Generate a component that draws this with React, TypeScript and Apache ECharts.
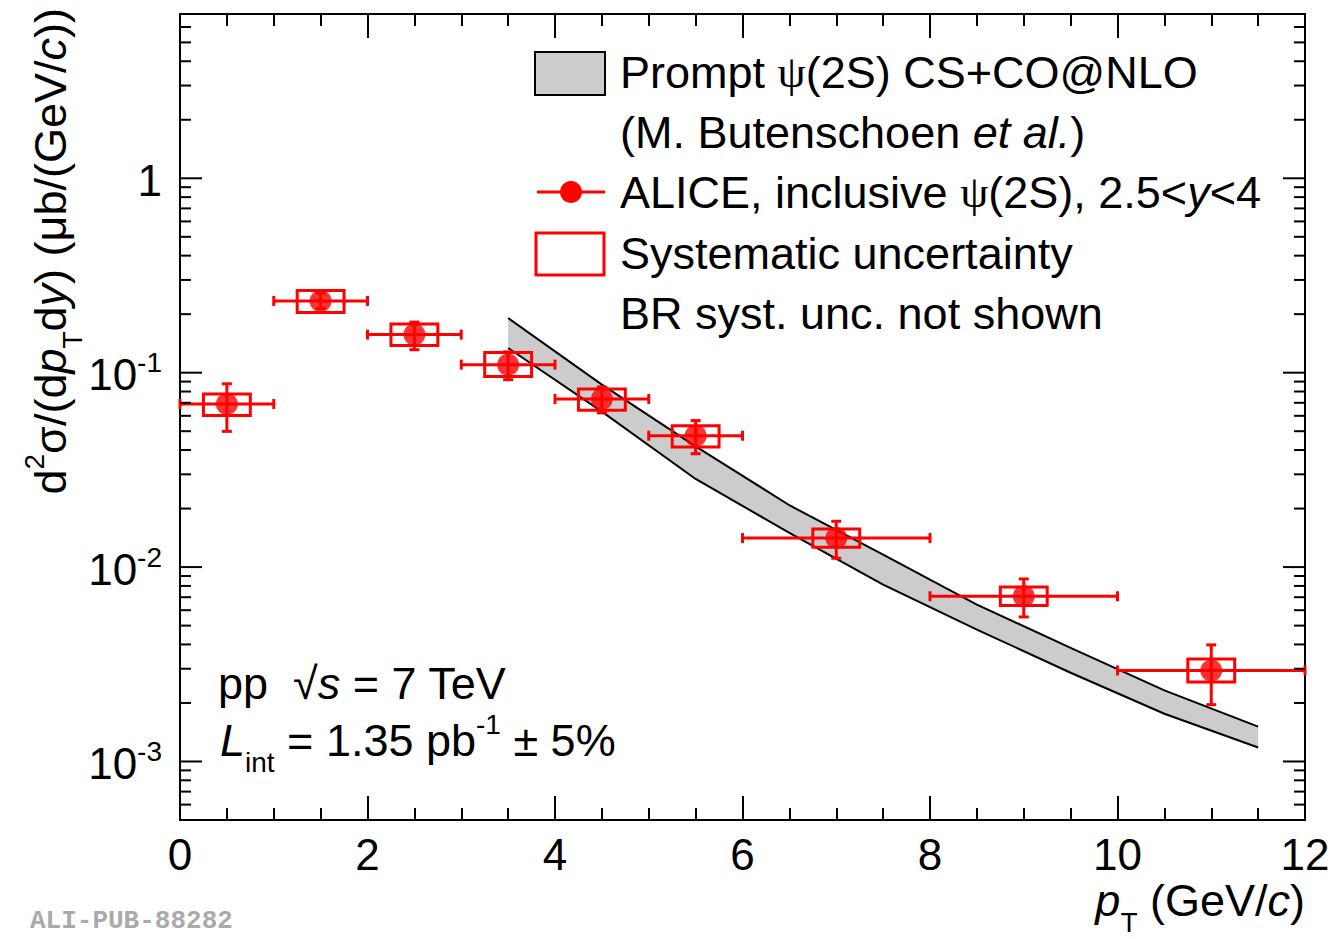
import React, { useEffect, useRef } from "react";
import * as echarts from "echarts";

// ---- measured data (ALICE inclusive psi(2S), pp 7 TeV) ----
const binCenters = [0.5, 1.5, 2.5, 3.5, 4.5, 5.5, 7, 9, 11];
const binLow = [0, 1, 2, 3, 4, 5, 6, 8, 10];
const binHigh = [1, 2, 3, 4, 5, 6, 8, 10, 12];
const sigma = [0.069, 0.234, 0.157, 0.11, 0.0732, 0.0474, 0.0141, 0.00708, 0.00294];
const statLow = [0.0499, 0.214, 0.1313, 0.092, 0.0621, 0.0383, 0.0111, 0.00554, 0.00196];
const statHigh = [0.0877, 0.256, 0.182, 0.128, 0.0844, 0.0567, 0.0172, 0.00869, 0.00398];
const systLow = [0.0603, 0.204, 0.138, 0.0957, 0.064, 0.0415, 0.01264, 0.00634, 0.00256];
const systHigh = [0.0777, 0.265, 0.178, 0.127, 0.0824, 0.0534, 0.0157, 0.00791, 0.00337];
const systHalfWidth = 0.25;

// ---- theory band (Prompt psi(2S) CS+CO@NLO) ----
const theoryPt = [3.5, 4.5, 5.5, 6.5, 7.5, 8.5, 9.5, 10.5, 11.5];
const theoryHigh = [0.191, 0.0868, 0.0418, 0.0208, 0.0116, 0.00641, 0.00384, 0.00232, 0.00151];
const theoryLow = [0.134, 0.063, 0.0284, 0.015, 0.00813, 0.00477, 0.00286, 0.00176, 0.00118];

// ---- axes ----
const xMin = 0;
const xMax = 12;
const xInterval = 2;
const yMin = 5e-4;
const yMax = 7;
const yDecades = [1, 0.1, 0.01, 0.001];
const yLabelBase = ["1", "10", "10", "10"];
const yLabelExp = ["", "-1", "-2", "-3"];
const yMinorDecades = [1e-4, 1e-3, 1e-2, 1e-1, 1];
const yMinorMultipliers = [2, 3, 4, 5, 6, 7, 8, 9];

const FONT = "Liberation Sans";
const RED = "#ff0000";
const FS = 45;

const yMinorTicks: number[] = [];
yMinorDecades.forEach((d) =>
  yMinorMultipliers.forEach((m) => {
    const v = m * d;
    if (v > yMin && v < yMax) yMinorTicks.push(v);
  })
);

const richBase = {
  n: { fontSize: FS, fontFamily: FONT, color: "#000", lineHeight: 72 },
  i: { fontSize: FS, fontFamily: FONT, fontStyle: "italic", color: "#000", lineHeight: 72 },
  g: { fontSize: FS, fontFamily: "Liberation Serif", color: "#000", lineHeight: 72 },
  sup: { fontSize: 28, fontFamily: FONT, color: "#000", verticalAlign: "top", padding: [6, 0, 0, 0] },
  sub: { fontSize: 28, fontFamily: FONT, color: "#000", verticalAlign: "bottom" },
};

function buildOption() {
  const xAxisCommon = {
    type: "value",
    min: xMin,
    max: xMax,
    interval: xInterval,
    axisLine: { show: false },
    splitLine: { show: false },
    axisTick: { show: true, inside: true, length: 24, lineStyle: { color: "#000", width: 2 } },
    minorTick: { show: true, splitNumber: 4, length: 12, lineStyle: { color: "#000", width: 2 } },
  };

  return {
    animation: false,
    backgroundColor: "#ffffff",
    grid: {
      left: 180,
      top: 14,
      width: 1125,
      height: 806,
      show: true,
      borderColor: "#000",
      borderWidth: 2,
      backgroundColor: "transparent",
      containLabel: false,
      outerBoundsMode: "none",
    },
    xAxis: [
      {
        ...xAxisCommon,
        position: "bottom",
        axisLabel: { show: true, fontSize: 44, fontFamily: FONT, color: "#000", margin: 12 },
      },
      {
        ...xAxisCommon,
        position: "top",
        axisLabel: { show: false },
      },
    ],
    yAxis: [
      {
        type: "log",
        logBase: 10,
        min: yMin,
        max: yMax,
        axisLine: { show: false },
        axisTick: { show: false },
        axisLabel: { show: false },
        splitLine: { show: false },
      },
    ],
    series: [
      // theory band
      {
        type: "custom",
        z: 1,
        data: [[theoryPt[0], theoryHigh[0]]],
        renderItem: (_params: any, api: any) => {
          const up = theoryPt.map((x, i) => api.coord([x, theoryHigh[i]]));
          const lo = theoryPt.map((x, i) => api.coord([x, theoryLow[i]]));
          return {
            type: "group",
            children: [
              { type: "polygon", shape: { points: [...up, ...lo.slice().reverse()] }, style: { fill: "#cccccc" } },
              { type: "polyline", shape: { points: up }, style: { stroke: "#000", lineWidth: 2, fill: null } },
              { type: "polyline", shape: { points: lo }, style: { stroke: "#000", lineWidth: 2, fill: null } },
            ],
          };
        },
      },
      // systematic boxes
      {
        type: "custom",
        z: 3,
        data: binCenters.map((x, i) => [x, sigma[i], systLow[i], systHigh[i]]),
        encode: { x: 0, y: 1 },
        renderItem: (_params: any, api: any) => {
          const x = api.value(0);
          const p1 = api.coord([x - systHalfWidth, api.value(3)]);
          const p2 = api.coord([x + systHalfWidth, api.value(2)]);
          return {
            type: "rect",
            shape: { x: p1[0], y: p1[1], width: p2[0] - p1[0], height: p2[1] - p1[1] },
            style: { fill: "none", stroke: RED, lineWidth: 3 },
          };
        },
      },
      // statistical error bars and bin widths
      {
        type: "custom",
        z: 4,
        data: binCenters.map((x, i) => [x, sigma[i], statLow[i], statHigh[i], binLow[i], binHigh[i]]),
        encode: { x: 0, y: 1 },
        renderItem: (_params: any, api: any) => {
          const x = api.value(0);
          const y = api.value(1);
          const c = api.coord([x, y]);
          const lo = api.coord([x, api.value(2)]);
          const hi = api.coord([x, api.value(3)]);
          const l = api.coord([api.value(4), y]);
          const r = api.coord([api.value(5), y]);
          const st = { stroke: RED, lineWidth: 3 };
          const cap = 5;
          return {
            type: "group",
            children: [
              { type: "line", shape: { x1: c[0], y1: lo[1], x2: c[0], y2: hi[1] }, style: st },
              { type: "line", shape: { x1: c[0] - cap, y1: lo[1], x2: c[0] + cap, y2: lo[1] }, style: st },
              { type: "line", shape: { x1: c[0] - cap, y1: hi[1], x2: c[0] + cap, y2: hi[1] }, style: st },
              { type: "line", shape: { x1: l[0], y1: c[1], x2: r[0], y2: c[1] }, style: st },
              { type: "line", shape: { x1: l[0], y1: c[1] - cap, x2: l[0], y2: c[1] + cap }, style: st },
              { type: "line", shape: { x1: r[0], y1: c[1] - cap, x2: r[0], y2: c[1] + cap }, style: st },
            ],
          };
        },
      },
      // markers
      {
        type: "scatter",
        z: 5,
        symbol: "circle",
        symbolSize: 22,
        itemStyle: { color: RED },
        data: binCenters.map((x, i) => [x, sigma[i]]),
      },
      // y ticks (left and right) and y labels
      {
        type: "custom",
        z: 6,
        silent: true,
        data: [[1, 1]],
        renderItem: (params: any, api: any) => {
          const cs = params.coordSys;
          const L = cs.x;
          const R = cs.x + cs.width;
          const st = { stroke: "#000", lineWidth: 2 };
          const children: any[] = [];
          yMinorTicks.forEach((v) => {
            const y = api.coord([1, v])[1];
            children.push({ type: "line", shape: { x1: L, y1: y, x2: L + 11, y2: y }, style: st });
            children.push({ type: "line", shape: { x1: R - 11, y1: y, x2: R, y2: y }, style: st });
          });
          yDecades.forEach((v, i) => {
            const y = api.coord([1, v])[1];
            children.push({ type: "line", shape: { x1: L, y1: y, x2: L + 22, y2: y }, style: st });
            children.push({ type: "line", shape: { x1: R - 22, y1: y, x2: R, y2: y }, style: st });
            const text = yLabelExp[i] ? `{b|${yLabelBase[i]}}{s|${yLabelExp[i]}}` : `{b|${yLabelBase[i]}}`;
            children.push({
              type: "text",
              x: L - 18,
              y: y + 2,
              style: {
                text,
                align: "right",
                verticalAlign: "middle",
                rich: {
                  b: { fontSize: 44, fontFamily: FONT, color: "#000", lineHeight: 52 },
                  s: { fontSize: 28, fontFamily: FONT, color: "#000", verticalAlign: "top" },
                },
              },
            });
          });
          return { type: "group", children };
        },
      },
    ],
    graphic: [
      // legend
      { type: "rect", shape: { x: 535, y: 52, width: 70, height: 43 }, style: { fill: "#cccccc", stroke: "#000", lineWidth: 2 }, z: 10 },
      {
        type: "text", x: 620, y: 72, z: 10,
        style: { text: "{n|Prompt }{g|ψ}{n|(2S) CS+CO@NLO}", rich: richBase, verticalAlign: "middle" },
      },
      {
        type: "text", x: 620, y: 132, z: 10,
        style: { text: "{n|(M. Butenschoen }{i|et al.}{n|)}", rich: richBase, verticalAlign: "middle" },
      },
      { type: "line", shape: { x1: 537, y1: 192, x2: 605, y2: 192 }, style: { stroke: RED, lineWidth: 3 }, z: 10 },
      { type: "circle", shape: { cx: 571, cy: 192, r: 11 }, style: { fill: RED }, z: 10 },
      {
        type: "text", x: 620, y: 192, z: 10,
        style: { text: "{n|ALICE, inclusive }{g|ψ}{n|(2S), 2.5<}{i|y}{n|<4}", rich: richBase, verticalAlign: "middle" },
      },
      { type: "rect", shape: { x: 536, y: 233, width: 68, height: 42 }, style: { fill: "none", stroke: RED, lineWidth: 3 }, z: 10 },
      {
        type: "text", x: 620, y: 253, z: 10,
        style: { text: "{n|Systematic uncertainty}", rich: richBase, verticalAlign: "middle" },
      },
      {
        type: "text", x: 620, y: 313, z: 10,
        style: { text: "{n|BR syst. unc. not shown}", rich: richBase, verticalAlign: "middle" },
      },
      // collision info
      {
        type: "text", x: 218, y: 683, z: 10,
        style: { text: "{n|pp  √}{i|s}{n| = 7 TeV}", rich: richBase, verticalAlign: "middle" },
      },
      {
        type: "text", x: 220, y: 740, z: 10,
        style: { text: "{i|L}{sub|int}{n| = 1.35 pb}{sup|-1}{n| ± 5%}", rich: richBase, verticalAlign: "middle" },
      },
      // axis titles
      {
        type: "text", x: 1305, y: 900, z: 10,
        style: { text: "{i|p}{sub|T}{n| (GeV/}{i|c}{n|)}", rich: richBase, align: "right", verticalAlign: "middle" },
      },
      {
        type: "text", x: 50, y: 8, z: 10, rotation: Math.PI / 2,
        style: {
          text: "{n|d}{sup|2}{n|σ/(d}{i|p}{sub|T}{n|d}{i|y}{n|) (μb/(GeV/}{i|c}{n|))}",
          rich: richBase,
          align: "right",
          verticalAlign: "middle",
        },
      },
      // publication id
      {
        type: "text", x: 30, y: 934, z: 10,
        style: {
          text: "ALI-PUB-88282",
          fontSize: 26,
          fontFamily: "Liberation Mono",
          fontWeight: "bold",
          fill: "#aaaaaa",
          verticalAlign: "bottom",
        },
      },
    ],
  };
}

export default function App() {
  const ref = useRef<HTMLDivElement>(null);
  useEffect(() => {
    if (!ref.current) return;
    const chart = echarts.init(ref.current, null, { renderer: "svg" });
    chart.setOption(buildOption() as any);
    return () => chart.dispose();
  }, []);
  return (
    <div
      ref={ref}
      style={{ position: "fixed", left: 0, top: 0, width: 1332, height: 939, background: "#ffffff" }}
    />
  );
}
